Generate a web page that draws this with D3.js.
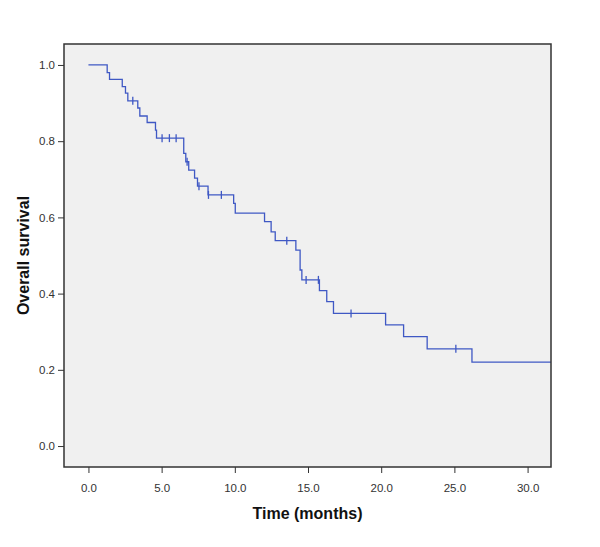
<!DOCTYPE html>
<meta charset="utf-8">
<style>
  body { margin: 0; background: #fff; }
  svg { display: block; }
  .tick text { font-family: Arial, 'Liberation Sans', sans-serif; font-size: 11.5px; fill: #333; }
  .axis-title { font-family: Arial, 'Liberation Sans', sans-serif; font-size: 16px; font-weight: bold; fill: #111; text-anchor: middle; }
</style>
<script src="https://d3js.org/d3.v7.min.js"></script>
<svg width="600" height="547"></svg>
<script>
// Kaplan-Meier steps: event times and survival after each event
var eventTimes = [0, 1.28, 1.44, 2.31, 2.53, 2.69, 3.37, 3.51, 4.01, 4.58, 4.65, 6.51, 6.65, 6.85, 7.25, 7.45, 8.17,
  9.92, 10.03, 12.03, 12.48, 12.76, 14.17, 14.46, 14.58, 15.78, 16.28, 16.74, 20.3, 21.53, 23.14, 26.2];
var survival = [1.0, 0.980, 0.962, 0.943, 0.926, 0.906, 0.887, 0.866, 0.849, 0.829, 0.808, 0.768, 0.746, 0.724, 0.703, 0.682, 0.659,
  0.637, 0.611, 0.589, 0.562, 0.539, 0.514, 0.462, 0.436, 0.408, 0.379, 0.348, 0.318, 0.287, 0.255, 0.220];
var censorTimes = [3.03, 5.03, 5.53, 5.99, 6.74, 7.55, 8.2, 9.08, 13.55, 14.87, 15.71, 17.94, 25.1];
var xTicks = [0, 5, 10, 15, 20, 25, 30];
var yTicks = [0, 0.2, 0.4, 0.6, 0.8, 1.0];

var svg = d3.select("svg");
var pL = 64, pR = 551, pT = 44, pB = 467;

var x = d3.scaleLinear().domain([-1.67, 31.6]).range([pL, pR]);
var y = d3.scaleLinear().domain([-0.055, 1.055]).range([pB, pT]);

svg.append("rect")
  .attr("x", pL).attr("y", pT)
  .attr("width", pR - pL).attr("height", pB - pT)
  .attr("fill", "#f0f0f0");

svg.append("g")
  .attr("transform", "translate(0," + pB + ")")
  .call(d3.axisBottom(x).tickValues(xTicks).tickFormat(d3.format(".1f")).tickSizeOuter(0).tickSize(6).tickPadding(11));
svg.append("g")
  .attr("transform", "translate(" + pL + ",0)")
  .call(d3.axisLeft(y).tickValues(yTicks).tickFormat(d3.format(".1f")).tickSizeOuter(0).tickSize(6).tickPadding(3));
svg.selectAll(".domain").remove();
svg.selectAll(".tick line").attr("stroke", "#333");

// step curve
var pts = eventTimes.map(function(t, i) { return [t, survival[i]]; });
pts.push([x.domain()[1], survival[survival.length - 1]]);

svg.append("path")
  .datum(pts)
  .attr("fill", "none")
  .attr("stroke", "#3f58c4")
  .attr("stroke-width", 1.3)
  .attr("d", d3.line().x(function(d) { return x(d[0]); }).y(function(d) { return y(d[1]); }).curve(d3.curveStepAfter));

function survAt(t) {
  var i = d3.bisectRight(eventTimes, t) - 1;
  return survival[Math.max(0, i)];
}

svg.selectAll(".censor")
  .data(censorTimes)
  .enter().append("line")
  .attr("class", "censor")
  .attr("x1", function(d) { return x(d); })
  .attr("x2", function(d) { return x(d); })
  .attr("y1", function(d) { return y(survAt(d)) - 4; })
  .attr("y2", function(d) { return y(survAt(d)) + 4; })
  .attr("stroke", "#3f58c4")
  .attr("stroke-width", 1.3);

svg.append("rect")
  .attr("x", pL).attr("y", pT)
  .attr("width", pR - pL).attr("height", pB - pT)
  .attr("fill", "none")
  .attr("stroke", "#333")
  .attr("stroke-width", 1.5);

svg.append("text")
  .attr("class", "axis-title")
  .attr("x", (pL + pR) / 2)
  .attr("y", 519)
  .text("Time (months)");

svg.append("text")
  .attr("class", "axis-title")
  .attr("transform", "translate(29," + (pT + pB) / 2 + ") rotate(-90)")
  .text("Overall survival");
</script>
